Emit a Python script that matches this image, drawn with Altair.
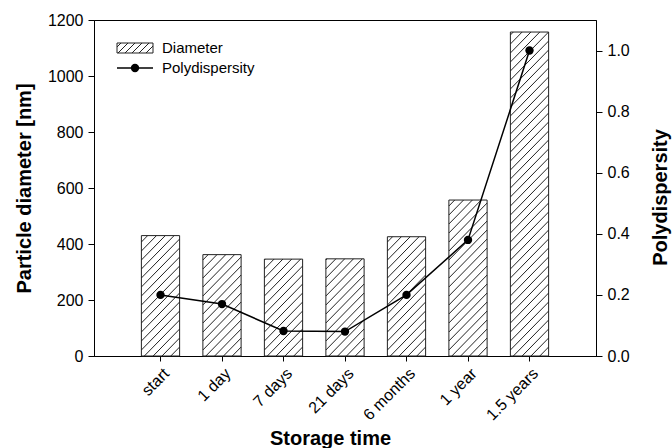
import json
import altair as alt
import pandas as pd

# ---- data ----
categories = ["start", "1 day", "7 days", "21 days", "6 months", "1 year", "1.5 years"]
diameter = [430, 362, 346, 347, 426, 557, 1157]
polydispersity = [0.20, 0.17, 0.082, 0.080, 0.20, 0.38, 1.00]

# ---- layout (pixels) ----
W, H = 502, 336
X_MAX = len(categories) + 1
Y_MAX = 1200
PXX = W / X_MAX
PXY = H / Y_MAX
BAR_W = 39
HW = BAR_W / 2 / PXX
HATCH_STEP = 9

positions = list(range(1, len(categories) + 1))
bars = pd.DataFrame({
    "pos": positions,
    "cat": categories,
    "x_lo": [p - HW for p in positions],
    "x_hi": [p + HW for p in positions],
    "diameter": diameter,
    "poly": polydispersity,
})

# hatch segments (45 degree lines clipped to each bar), derived from the bar values
rows = []
for p, v in zip(positions, diameter):
    h = v * PXY
    c = -BAR_W
    while c < h:
        xs = max(0.0, -c)
        xe = min(BAR_W, h - c)
        if xe > xs:
            rows.append({
                "x_lo": p - HW + xs / PXX, "x_hi": p - HW + xe / PXX,
                "diameter": (xs + c) / PXY, "d2": (xe + c) / PXY,
            })
        c += HATCH_STEP
hatch = pd.DataFrame(rows)

label_expr = "%s[datum.value - 1]" % json.dumps(categories)
FONT = "Liberation Sans"

x_scale = alt.Scale(domain=[0, X_MAX], nice=False, zero=False)
x_axis = alt.Axis(
    values=positions, labelExpr=label_expr, labelAngle=-45,
    labelAlign="right", labelBaseline="top", labelPadding=4,
    title="Storage time", titleX=236, titleY=82,
    titleAlign="center", titleBaseline="middle",
    grid=False, tickSize=5, tickColor="black", domainColor="black",
)
y_scale = alt.Scale(domain=[0, Y_MAX], nice=False)
y_axis = alt.Axis(
    values=list(range(0, 1201, 200)), format="d", title="Particle diameter [nm]",
    titleX=-70, titleY=H / 2, titleAngle=-90,
    titleAlign="center", titleBaseline="middle",
    grid=False, tickSize=6, tickColor="black", domainColor="black",
    labelPadding=5,
)

bar_layer = alt.Chart(bars).mark_bar(
    fill="white", stroke="#222222", strokeWidth=1, orient="vertical"
).encode(
    x=alt.X("x_lo:Q", scale=x_scale, axis=x_axis),
    x2="x_hi:Q",
    y=alt.Y("diameter:Q", scale=y_scale, axis=y_axis),
    y2=alt.datum(0),
)

hatch_layer = alt.Chart(hatch).mark_rule(color="#222222", strokeWidth=1).encode(
    x=alt.X("x_lo:Q", scale=x_scale, axis=x_axis), x2="x_hi:Q",
    y=alt.Y("diameter:Q", scale=y_scale, axis=y_axis), y2="d2:Q",
)

left = alt.layer(bar_layer, hatch_layer)

p_scale = alt.Scale(domain=[0, 1.1], nice=False)
p_axis = alt.Axis(
    orient="right", values=[0, 0.2, 0.4, 0.6, 0.8, 1.0], format=".1f",
    title="Polydispersity", titleX=64, titleY=177, titleAngle=-90,
    titleAlign="center", titleBaseline="middle",
    grid=False, tickSize=6, tickColor="black", domainColor="black",
    labelPadding=5,
)

line_layer = alt.Chart(bars).mark_line(color="black", strokeWidth=1.5).encode(
    x=alt.X("pos:Q", scale=x_scale, axis=x_axis),
    y=alt.Y("poly:Q", scale=p_scale, axis=p_axis),
)
point_layer = alt.Chart(bars).mark_point(
    filled=True, color="black", size=70, opacity=1
).encode(
    x=alt.X("pos:Q", scale=x_scale, axis=x_axis),
    y=alt.Y("poly:Q", scale=p_scale, axis=p_axis),
)

right = alt.layer(line_layer, point_layer)

# ---- manual legend (pixel positions inside the plot area) ----
LX0, LX1, LY0, LY1 = 23, 59, 23, 33
leg_df = pd.DataFrame({"k": [0]})
legend_parts = [
    alt.Chart(leg_df).mark_rect(fill="white", stroke="#222222", strokeWidth=1).encode(
        x=alt.value(LX0), x2=alt.value(LX1), y=alt.value(LY0), y2=alt.value(LY1)
    )
]
sw_w, sw_h = LX1 - LX0, LY1 - LY0
c = -sw_w
while c < sw_h:
    xs = max(0.0, -c)
    xe = min(sw_w, sw_h - c)
    if xe > xs:
        legend_parts.append(
            alt.Chart(leg_df).mark_rule(color="#222222", strokeWidth=1).encode(
                x=alt.value(LX0 + xs), x2=alt.value(LX0 + xe),
                y=alt.value(LY1 - (xs + c)), y2=alt.value(LY1 - (xe + c)),
            )
        )
    c += 7
legend_parts += [
    alt.Chart(leg_df).mark_rule(color="black", strokeWidth=1.5).encode(
        x=alt.value(LX0), x2=alt.value(LX1), y=alt.value(48), y2=alt.value(48)
    ),
    alt.Chart(leg_df).mark_point(filled=True, color="black", size=70, opacity=1).encode(
        x=alt.value((LX0 + LX1) / 2), y=alt.value(48)
    ),
    alt.Chart(leg_df).mark_text(
        text="Diameter", align="left", baseline="middle", fontSize=15, font=FONT, color="black"
    ).encode(x=alt.value(68), y=alt.value(28)),
    alt.Chart(leg_df).mark_text(
        text="Polydispersity", align="left", baseline="middle", fontSize=15, font=FONT, color="black"
    ).encode(x=alt.value(68), y=alt.value(48)),
]

chart = alt.layer(left, right, *legend_parts).resolve_scale(
    y="independent"
).properties(
    width=W, height=H,
    autosize=alt.AutoSizeParams(type="none"),
    padding={"left": 94, "top": 20, "right": 672 - 94 - W, "bottom": 448 - 20 - H},
    background="white",
).configure_view(
    stroke="black", strokeWidth=1
).configure_axis(
    labelFont=FONT, titleFont=FONT, labelFontSize=16, titleFontSize=20,
    labelColor="black", titleColor="black", titleFontWeight="bold",
    domainWidth=1, tickWidth=1,
)

chart.save("out.html", embed_options={"renderer": "svg", "actions": False})
